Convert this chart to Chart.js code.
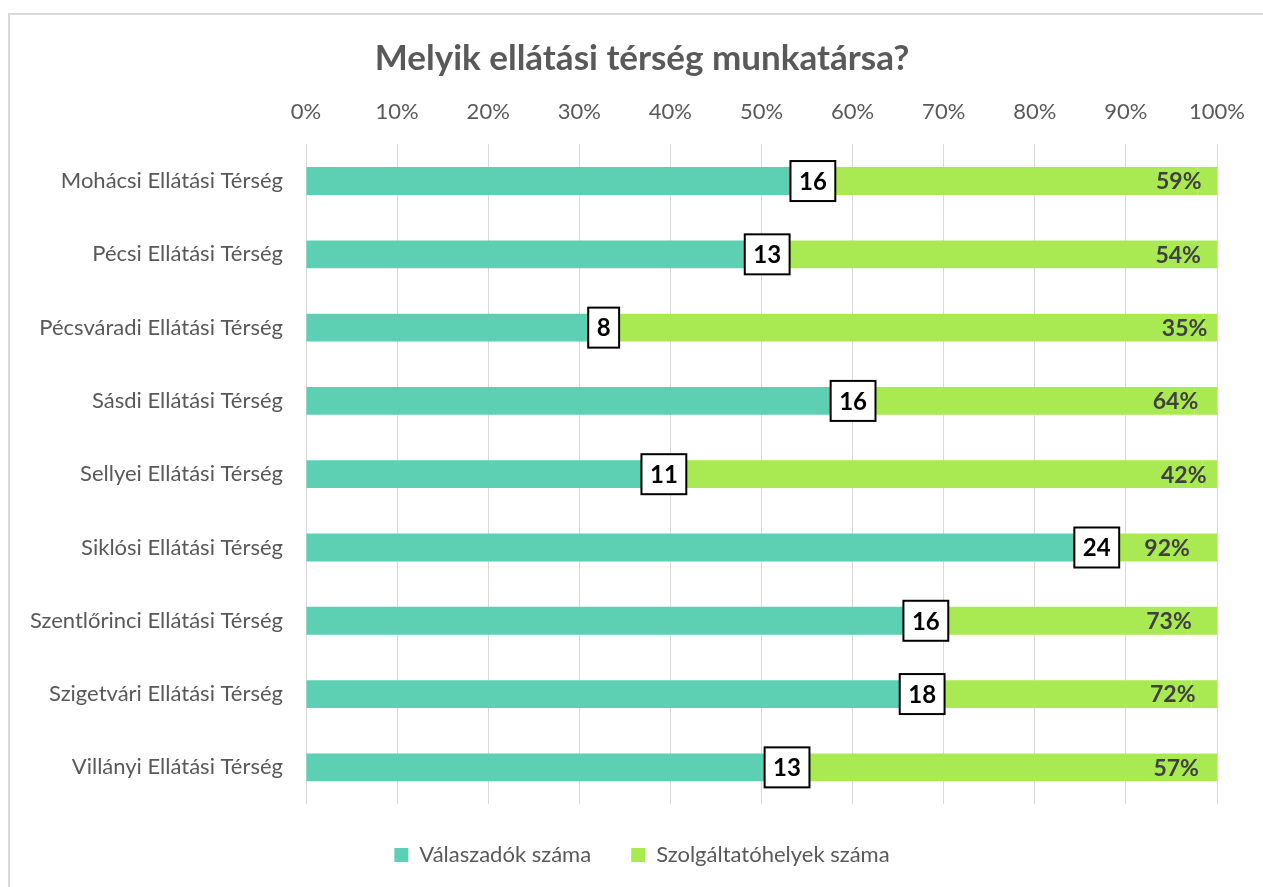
<!DOCTYPE html>
<html>
<head>
<meta charset="utf-8">
<script src="https://cdn.jsdelivr.net/npm/chart.js@4"></script>
<style>
  body { margin: 0; background: #fff; }
  canvas { display: block; }
</style>
</head>
<body>
<canvas id="canvasTerseg" width="1263" height="887"></canvas>
<script>
// adatok
const tersegek = ['Mohácsi Ellátási Térség', 'Pécsi Ellátási Térség', 'Pécsváradi Ellátási Térség',
  'Sásdi Ellátási Térség', 'Sellyei Ellátási Térség', 'Siklósi Ellátási Térség',
  'Szentlőrinci Ellátási Térség', 'Szigetvári Ellátási Térség', 'Villányi Ellátási Térség'];
const valaszadok = [16, 13, 8, 16, 11, 24, 16, 18, 13];
const szolgaltatohelyek = [11, 11, 15, 9, 15, 2, 6, 7, 10];
const aranyok = [59, 54, 35, 64, 42, 92, 73, 72, 57];

const osszesen = valaszadok.map((v, i) => v + szolgaltatohelyek[i] + aranyok[i] / 100);
const szazalek = (arr, oszto) => arr.map((v, i) => v / oszto / osszesen[i] * 100);

const teal = '#5DCFB2';
const zold = '#A9EA53';
const betu = 'Lato, "Open Sans", sans-serif';

// keret + cimkek
const keret = {
  id: 'keret',
  beforeDraw(chart) {
    const ctx = chart.ctx;
    ctx.save();
    ctx.fillStyle = '#fff';
    ctx.fillRect(0, 0, chart.width, chart.height);
    ctx.strokeStyle = '#d9d9d9';
    ctx.lineWidth = 2;
    ctx.beginPath();
    ctx.moveTo(9, chart.height);
    ctx.lineTo(9, 14);
    ctx.lineTo(chart.width, 14);
    ctx.stroke();
    ctx.restore();
  }
};

const cimkek = {
  id: 'cimkek',
  afterDatasetsDraw(chart) {
    const ctx = chart.ctx;
    ctx.save();
    // valaszadok szama dobozban
    ctx.font = 'bold 24px ' + betu;
    ctx.textAlign = 'center';
    ctx.textBaseline = 'middle';
    chart.getDatasetMeta(0).data.forEach((el, i) => {
      const txt = String(valaszadok[i]);
      const w = ctx.measureText(txt).width + 17;
      const h = 40;
      const x = el.x + 1 - w;
      const y = el.y - h / 2;
      ctx.fillStyle = '#fff';
      ctx.fillRect(x, y, w, h);
      ctx.strokeStyle = '#000';
      ctx.lineWidth = 2;
      ctx.strokeRect(x, y, w, h);
      ctx.fillStyle = '#000';
      ctx.fillText(txt, x + w / 2, el.y + 1);
    });
    // arany
    ctx.font = 'bold 23px ' + betu;
    ctx.textAlign = 'right';
    ctx.fillStyle = '#404040';
    chart.getDatasetMeta(2).data.forEach((el, i) => {
      ctx.fillText(aranyok[i] + '%', el.base + 4, el.y + 1);
    });
    ctx.restore();
  }
};

let grafTerseg = document.getElementById('canvasTerseg').getContext('2d');
let chart = new Chart(grafTerseg, {
  type: 'bar',
  data: {
    labels: tersegek,
    datasets: [
      {
        label: 'Válaszadók száma',
        data: szazalek(valaszadok, 1),
        backgroundColor: teal
      },
      {
        label: 'Szolgáltatóhelyek száma',
        data: szazalek(szolgaltatohelyek, 1),
        backgroundColor: zold
      },
      {
        label: 'arany',
        data: szazalek(aranyok, 100),
        backgroundColor: zold
      }
    ]
  },
  options: {
    indexAxis: 'y',
    responsive: false,
    animation: false,
    barPercentage: 0.38,
    categoryPercentage: 1,
    layout: { padding: { top: 30, right: 0, bottom: 11, left: 21 } },
    scales: {
      x: {
        position: 'top',
        stacked: true,
        min: 0,
        max: 100,
        border: { display: false },
        grid: { color: '#d9d9d9', drawTicks: false },
        ticks: {
          stepSize: 10,
          padding: 19,
          color: '#595959',
          font: { family: betu, size: 22 },
          callback: v => v + '%'
        },
        afterFit: s => { s.paddingRight = 46; }
      },
      y: {
        stacked: true,
        border: { display: false },
        grid: { display: false, drawTicks: false },
        ticks: {
          padding: 23,
          color: '#595959',
          font: { family: betu, size: 22 }
        },
        afterFit: s => { s.width = 285; }
      }
    },
    plugins: {
      title: {
        display: true,
        text: 'Melyik ellátási térség munkatársa?',
        color: '#595959',
        font: { family: betu, size: 35, weight: 'bold' },
        padding: { top: 8, bottom: 0 }
      },
      legend: {
        position: 'bottom',
        labels: {
          filter: item => item.datasetIndex < 2,
          boxWidth: 14,
          boxHeight: 14,
          padding: 40,
          color: '#595959',
          font: { family: betu, size: 22 }
        }
      },
      tooltip: { enabled: false }
    }
  },
  plugins: [keret, cimkek]
});
</script>
</body>
</html>
